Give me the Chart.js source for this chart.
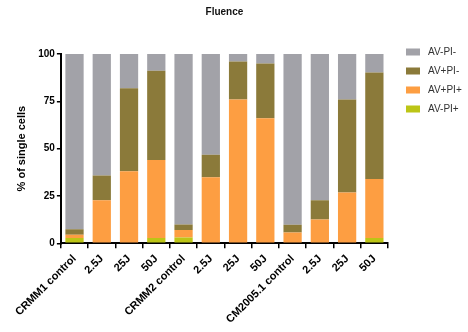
<!DOCTYPE html>
<html>
<head>
<meta charset="utf-8">
<script src="https://cdn.jsdelivr.net/npm/chart.js@4"></script>
<style>
  html, body { margin: 0; padding: 0; background: #fff; }
  #wrap { width: 468px; height: 332px; position: relative; }
</style>
</head>
<body>
<div id="wrap"><canvas id="chart"></canvas></div>
<script>
// data (stack order bottom -> top)
const categories = ['CRMM1 control', '2.5J', '25J', '50J', 'CRMM2 control', '2.5J', '25J', '50J', 'CM2005.1 control', '2.5J', '25J', '50J'];
const avNegPiPos = [2.8, 0, 0, 2.8, 3.0, 0, 0, 0, 0, 0, 0, 2.8];
const avPosPiPos = [1.7, 22.7, 38.1, 41.2, 4.0, 34.9, 75.9, 66.0, 5.7, 12.6, 26.8, 31.2];
const avPosPiNeg = [2.9, 13.1, 43.8, 47.1, 2.9, 11.9, 20.2, 29.0, 4.1, 10.1, 49.1, 56.2];
const avNegPiNeg = [92.6, 64.2, 18.1, 8.9, 90.1, 53.2, 3.9, 5.0, 90.2, 77.3, 24.1, 9.8];
const yTicks = [0, 25, 50, 75, 100];

const colors = {
    'AV-PI-': '#a2a2a8',
    'AV+PI-': '#8b7a3a',
    'AV+PI+': '#fd9e42',
    'AV-PI+': '#bcc516'
};

// title + legend drawn by hand so they sit where the original has them
const sideBits = {
    id: 'sideBits',
    afterDraw(chart) {
        const c = chart.ctx;
        const area = chart.chartArea;
        c.save();
        c.fillStyle = '#111';
        c.font = 'bold 10px "Liberation Sans", Arial, sans-serif';
        c.textAlign = 'center';
        c.textBaseline = 'middle';
        c.fillText('Fluence', (area.left + area.right) / 2, 12);

        // legend, top row is the top of the stack
        const sets = chart.data.datasets.slice().reverse();
        c.font = '10px "Liberation Sans", Arial, sans-serif';
        c.textAlign = 'left';
        sets.forEach((ds, i) => {
            const y = 52 + i * 19;
            c.fillStyle = ds.backgroundColor;
            c.fillRect(406, y - 3.5, 14, 7);
            c.fillStyle = '#333';
            c.fillText(ds.label, 428, y + 0.5);
        });
        c.restore();
    }
};

new Chart(document.getElementById('chart'), {
    type: 'bar',
    data: {
        labels: categories,
        datasets: [
            { label: 'AV-PI+', data: avNegPiPos, backgroundColor: colors['AV-PI+'] },
            { label: 'AV+PI+', data: avPosPiPos, backgroundColor: colors['AV+PI+'] },
            { label: 'AV+PI-', data: avPosPiNeg, backgroundColor: colors['AV+PI-'] },
            { label: 'AV-PI-', data: avNegPiNeg, backgroundColor: colors['AV-PI-'] }
        ]
    },
    options: {
        responsive: true,
        maintainAspectRatio: false,
        animation: false,
        datasets: {
            bar: { categoryPercentage: 1, barPercentage: 0.67, borderWidth: 0 }
        },
        layout: { padding: { top: 54, right: 80, left: 15, bottom: 2 } },
        plugins: {
            legend: { display: false },
            title: { display: false },
            tooltip: { enabled: false }
        },
        scales: {
            x: {
                stacked: true,
                border: { color: '#000', width: 2 },
                grid: { drawOnChartArea: false, drawTicks: true, tickLength: 5, color: '#000', lineWidth: 1.5 },
                ticks: {
                    color: '#000',
                    maxRotation: 45,
                    minRotation: 45,
                    padding: 4,
                    font: { family: '"Liberation Sans", Arial, sans-serif', size: 11, weight: 'bold' }
                }
            },
            y: {
                stacked: true,
                min: 0,
                max: 100,
                afterBuildTicks(axis) { axis.ticks = yTicks.map(v => ({ value: v })); },
                border: { color: '#000', width: 2 },
                grid: { drawOnChartArea: false, drawTicks: true, tickLength: 4, color: '#000', lineWidth: 1.5 },
                ticks: {
                    color: '#000',
                    padding: 2,
                    font: { family: '"Liberation Sans", Arial, sans-serif', size: 10, weight: 'bold' }
                },
                title: {
                    display: true,
                    text: '% of single cells',
                    color: '#000',
                    padding: { top: 0, bottom: 8 },
                    font: { family: '"Liberation Sans", Arial, sans-serif', size: 11, weight: 'bold' }
                }
            }
        }
    },
    plugins: [sideBits]
});
</script>
</body>
</html>
